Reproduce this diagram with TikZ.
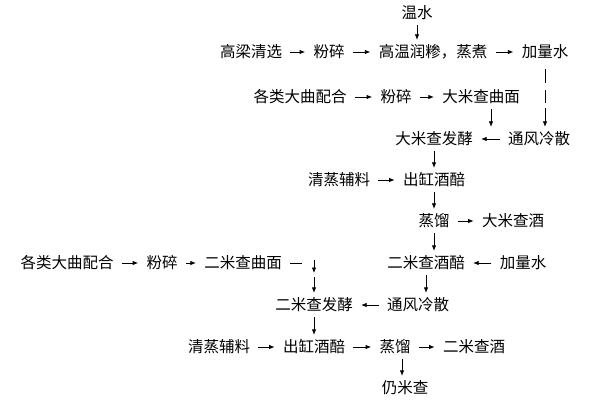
\documentclass[tikz,border=0pt]{standalone}
\usepackage{fontspec}
\setmainfont{Noto Sans CJK SC}
\usetikzlibrary{arrows.meta}

\begin{document}
\begin{tikzpicture}[x=1pt,y=-1pt,font=\fontsize{15.5}{18}\selectfont,line width=0.8pt,
    stage/.style={inner xsep=8pt,inner ysep=4pt,text height=13.6pt,text depth=1.9pt},
    arr/.style={-{Latex[length=5.5pt,width=4.5pt]}}]
\path[use as bounding box,fill=white] (0,0) rectangle (591,403);
\node[stage] (wenshui) at (417,13) {温水};
\node[stage] (gaoliang) at (251,52) {高梁清选};
\node[stage] (fensuiA) at (329,52) {粉碎};
\node[stage] (runshen) at (433,52) {高温润糁，蒸煮};
\node[stage] (jiashuiA) at (545,52) {加量水};
\node[stage] (daquA) at (300,97) {各类大曲配合};
\node[stage] (fensuiB) at (396,97) {粉碎};
\node[stage] (qumianA) at (481,97) {大米查曲面};
\node[stage] (fajiaoA) at (434,139) {大米查发酵};
\node[stage] (tongfengA) at (539,139) {通风冷散};
\node[stage] (fuliaoA) at (339,180) {清蒸辅料};
\node[stage] (jiupeiA) at (434,180) {出缸酒醅};
\node[stage] (zhengliuA) at (434,221) {蒸馏};
\node[stage] (jiuA) at (513,221) {大米查酒};
\node[stage] (daquB) at (67,263) {各类大曲配合};
\node[stage] (fensuiC) at (162,263) {粉碎};
\node[stage] (qumianB) at (243,263) {二米查曲面};
\node[stage] (erpei) at (426,263) {二米查酒醅};
\node[stage] (jiashuiB) at (523,263) {加量水};
\node[stage] (fajiaoB) at (314,305) {二米查发酵};
\node[stage] (tongfengB) at (418,305) {通风冷散};
\node[stage] (fuliaoB) at (219,347) {清蒸辅料};
\node[stage] (jiupeiB) at (314,347) {出缸酒醅};
\node[stage] (zhengliuB) at (395,347) {蒸馏};
\node[stage] (jiuB) at (474,347) {二米查酒};
\node[stage] (renzha) at (405,388) {仍米查};
\coordinate (bendB) at (fajiaoB |- qumianB);
\draw[arr] (gaoliang)--(fensuiA);
\draw[arr] (fensuiA)--(runshen);
\draw[arr] (runshen)--(jiashuiA);
\draw[arr] (daquA)--(fensuiB);
\draw[arr] (fensuiB)--(qumianA);
\draw[arr] (tongfengA)--(fajiaoA);
\draw[arr] (fuliaoA)--(jiupeiA);
\draw[arr] (zhengliuA)--(jiuA);
\draw[arr] (daquB)--(fensuiC);
\draw[arr] (fensuiC)--(qumianB);
\draw[arr] (jiashuiB)--(erpei);
\draw[arr] (tongfengB)--(fajiaoB);
\draw[arr] (fuliaoB)--(jiupeiB);
\draw[arr] (jiupeiB)--(zhengliuB);
\draw[arr] (zhengliuB)--(jiuB);
\draw[arr] (wenshui)--(wenshui |- runshen.north);
\draw[arr] ([xshift=10pt]qumianA.south)--([xshift=10pt]qumianA.south |- fajiaoA.north);
\draw[arr,shorten <=5pt,dash pattern=on 14pt off 7pt on 13pt off 5pt on 40pt] (jiashuiA.south)--(jiashuiA.south |- tongfengA.north);
\draw[arr] (fajiaoA)--(jiupeiA);
\draw[arr] (jiupeiA)--(zhengliuA);
\draw[arr] (zhengliuA.south)--(zhengliuA.south |- erpei.north);
\draw[arr] (erpei.south)--(erpei.south |- tongfengB.north);
\draw (qumianB.east)--([xshift=-12pt]bendB);
\draw[arr] ([yshift=3pt]bendB)--([yshift=-10pt]bendB);
\draw[arr] ([yshift=-14pt]bendB)--(fajiaoB.north);
\draw[arr] (fajiaoB)--(jiupeiB);
\draw[arr] ([xshift=7pt]zhengliuB.south)--([xshift=7pt]zhengliuB.south |- renzha.north);
\end{tikzpicture}
\end{document}
